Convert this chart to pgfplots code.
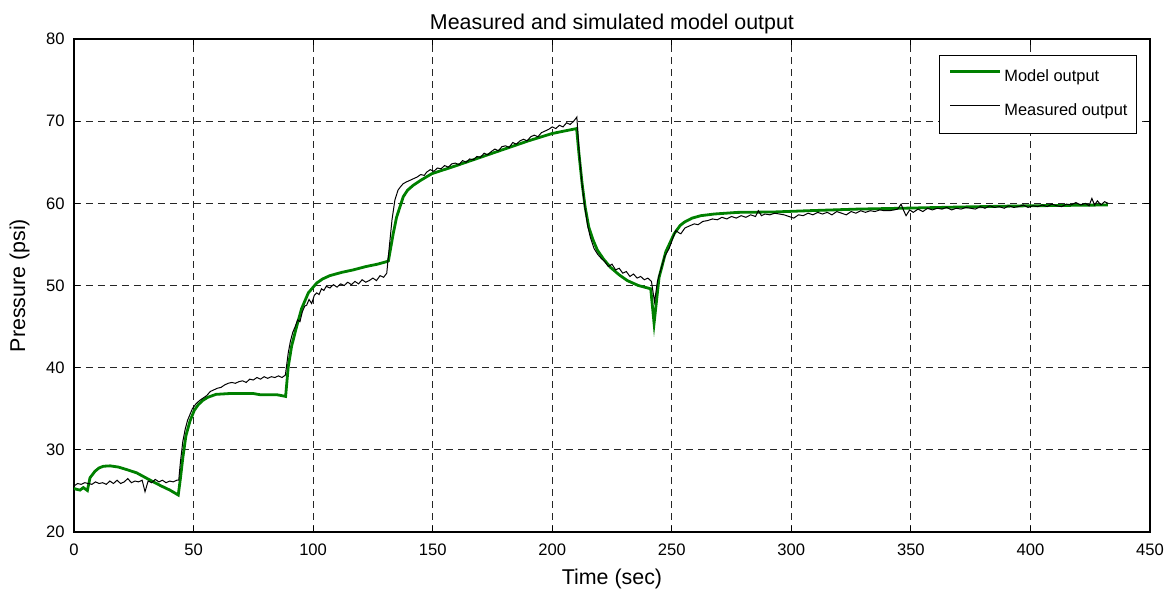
\documentclass[border=0pt]{standalone}
\usepackage{fontspec}
\setmainfont{Liberation Sans}
\usepackage{pgfplots}
\pgfplotsset{compat=1.18}
\definecolor{mgreen}{rgb}{0,0.5,0}
\begin{document}
\begin{tikzpicture}
\useasboundingbox (-37pt,-31pt) rectangle (550pt,266pt);
\begin{axis}[
  at={(0pt,0pt)}, anchor=south west,
  scale only axis, width=538pt, height=246.5pt,
  xmin=0, xmax=450, ymin=20, ymax=80,
  xtick={0,50,...,450}, ytick={20,30,...,80},
  /pgf/number format/assume math mode=true,
  tick label style={font=\fontsize{8.3}{10}\selectfont},
  xticklabel style={anchor=base, inner sep=0pt, yshift=-12pt},
  yticklabel style={anchor=east, inner sep=0pt, xshift=-4.5pt},
  tick align=inside, major tick length=3pt,
  axis line style={line width=0.6pt},
  every tick/.style={black, line width=0.5pt},
  grid=major,
  major grid style={black!85, line width=0.45pt, dash pattern=on 3.5pt off 2.5pt},
  every axis title shift=0pt,
  title={Measured and simulated model output},
  title style={font=\fontsize{10.7}{12}\selectfont, at={(axis description cs:0.5,1)}, anchor=base, yshift=4.9pt, inner sep=0pt},
  xlabel={Time (sec)},
  xlabel style={font=\fontsize{10.7}{12}\selectfont, at={(axis description cs:0.5,-0.1075)}, anchor=base, inner sep=0pt},
  ylabel={Pressure (psi)},
  ylabel style={font=\fontsize{10.7}{12}\selectfont, at={(axis description cs:-0.0455,0.5)}, anchor=base, inner sep=0pt},
  legend style={at={(axis description cs:0.988,0.9675)}, anchor=north east,
    draw=black, line width=0.6pt, fill=white,
    font=\fontsize{8.2}{9.8}\selectfont,
    inner xsep=4.5pt, inner ysep=7pt,
    nodes={inner sep=0pt, text height=6pt, text depth=2pt},
    row sep=9pt,
    /tikz/every odd column/.append style={column sep=1.5pt}},
  legend cell align=left,
  legend image code/.code={\draw[#1] (0pt,3pt) -- (25pt,3pt);},
]
\addplot[mgreen, line width=1.4pt] coordinates {
(0,25.3) (1,25.2) (2.5,25.1) (3.9,25.4) (5.6,25.05) (6.7,26.6) (8.8,27.4) (10.5,27.8)
(12.3,28.0) (15.1,28.05) (18.6,27.9) (22,27.6) (26.2,27.2) (30,26.6) (33.2,26.1)
(36.5,25.6) (40.1,25.1) (43.6,24.5) (44.5,26.5) (45.5,29.0) (46.8,31.7) (48.5,33.5)
(50.3,34.8) (52,35.5) (53.8,36.0) (56,36.4) (59.4,36.75) (65,36.85) (75,36.85)
(78,36.7) (85,36.7) (88.5,36.5) (89.6,40.1) (91.0,42.6) (93.1,45.0) (95.2,47.2)
(98.0,49.1) (101.5,50.3) (104,50.8) (107.0,51.2) (112,51.6) (116.8,51.9) (122,52.3)
(127,52.6) (130.7,52.9) (131.5,53.0) (133.5,56.3) (134.9,58.3) (137.7,60.8)
(139.5,61.6) (141.9,62.2) (145,62.8) (149.6,63.6) (160,64.6) (170,65.6) (180,66.6)
(190,67.6) (200,68.5) (210.2,69.1) (211.2,66) (212.5,62.4) (213.8,59.5) (215.3,57.1)
(217,55.6) (218.9,54.3) (221.5,53.2) (224.4,52.2) (228,51.3) (231.4,50.6) (236,50.0)
(241.2,49.6) (242.6,45.4) (244.7,51.0) (247.5,54.1) (251.0,56.3) (253.5,57.3)
(255.2,57.7) (258.5,58.2) (262.2,58.5) (267.8,58.7) (277.6,58.9) (292.9,58.95)
(306.9,59.1) (327.9,59.3) (346.1,59.4) (370,59.55) (398.3,59.7) (432.4,59.8)
};
\addlegendentry{Model output}
\addplot[black, line width=0.5pt] coordinates {
(0,25.6) (1.5,25.9) (3,25.8) (4.5,26.0) (6,25.9) (7.5,25.8) (9,26.1) (10.5,25.9)
(12,26.0) (13.5,25.8) (15,26.2) (16.5,25.9) (18,26.3) (19.5,25.9) (21,26.1) (22.5,26.5)
(24,26.0) (25.5,26.2) (27,26.1) (28.5,26.3) (29.7,24.9) (31,26.2) (32.5,26.0) (34,26.4)
(35.5,26.1) (37,26.3) (38.5,26.0) (40,26.2) (41.5,26.1) (43,26.3) (43.8,26.3)
(44.5,28.5) (45.5,31.0) (46.5,32.5) (47.5,33.6) (48.5,34.3) (49.5,35.0) (51,35.6)
(52.5,36.0) (54,36.3) (55.5,36.6) (57,37.1) (58.5,37.3) (60,37.5) (61.5,37.6) (63,37.9)
(64.5,38.1) (66,38.2) (67.5,38.1) (69,38.3) (70.5,38.4) (72,38.2) (73.5,38.6) (75,38.5)
(76.5,38.8) (78,38.6) (79.5,38.9) (81,38.7) (82.5,38.9) (84,38.8) (85.5,39.0) (87,38.8)
(88.4,39.1) (89.6,41.8) (90.5,43.2) (91.5,44.3) (92.5,45.0) (93.5,45.8) (94.5,45.6)
(95.5,46.8) (96.5,47.5) (97.3,47.6) (98.3,48.3) (99.4,47.8) (100.5,48.8) (101.5,49.1)
(102.5,48.9) (103.5,49.6) (104.5,49.4) (105.5,49.9) (107,49.7) (108.5,50.1) (110,49.8)
(111.5,50.2) (113,50.0) (114.5,50.4) (116,50.1) (117.5,50.5) (119,50.2) (120.5,50.7)
(122,50.4) (123.5,50.6) (125,50.9) (126.5,50.6) (128,51.2) (129.5,51.0) (130.8,51.5)
(131.8,54.5) (133,58.0) (134.2,60.4) (135.5,61.6) (136.5,62.0) (137.7,62.4) (139,62.6)
(140.5,62.8) (142,63.0) (143.5,63.2) (145,63.5) (146.5,63.4) (147.5,63.8) (149,64.1)
(150.5,63.9) (152,64.3) (153.5,64.2) (155,64.6) (156.5,64.4) (158,64.8) (159.5,64.9)
(161,64.7) (162.5,65.2) (164,65.0) (165.5,65.4) (167,65.3) (168.5,65.7) (170,65.6)
(171.5,66.1) (173,65.9) (174.5,66.3) (176,66.6) (177.5,66.4) (179,66.9) (180.5,67.0)
(182,66.8) (183.5,67.4) (185,67.2) (186.5,67.6) (188,67.8) (189.5,67.6) (191,68.1)
(192.5,68.3) (194,68.1) (195.5,68.6) (197,68.8) (198.5,69.0) (200,69.3) (201.5,69.1)
(203,69.5) (204.5,69.3) (206,69.8) (207.5,69.6) (209,70.0) (210.3,70.5)
(211.2,66.5) (212.3,62.8) (213.5,59.8) (214.8,57.3) (216,55.8) (217.5,54.5) (219,53.8)
(220.5,53.3) (222,52.9) (223.5,52.3) (225,52.6) (226.5,51.9) (228,52.1) (229.5,51.5)
(231,51.7) (232.5,51.1) (234,51.4) (235.5,50.9) (237,51.1) (238.5,50.7) (240,50.9)
(241.5,50.5) (242.8,48.0) (244,50.5) (245.5,52.0) (247,53.5) (248.9,54.5) (250.5,55.8)
(251.7,56.7) (253,56.4) (253.8,56.3) (255.5,57.0) (257,57.2) (259.4,57.5) (261,57.4)
(263,57.8) (265,57.9) (267,58.1) (269,58.0) (271,58.3) (273,58.1) (275,58.4) (277,58.2)
(279,58.5) (281,58.3) (283,58.6) (285,58.4) (286.2,59.1) (287.5,58.5) (289,58.7)
(291,58.6) (293,58.8) (295,58.7) (297,58.6) (299,58.4) (301,58.2) (303,58.6) (305,58.5)
(307,58.8) (309,58.6) (311,58.9) (313,58.7) (315,58.9) (317,58.6) (319,59.0) (321,58.8)
(323,58.6) (325,59.0) (327,58.8) (329,59.1) (331,58.9) (333,59.1) (335,59.0) (337,59.2)
(339,59.1) (341,59.1) (343,59.2) (344.5,59.3) (345.9,59.9) (347,59.1) (348,58.5)
(349.5,59.2) (351,58.9) (353,59.3) (355,59.0) (357,59.4) (359,59.2) (361,59.4) (363,59.3)
(365,59.5) (367,59.2) (369,59.4) (371,59.3) (373,59.5) (375,59.4) (377,59.3) (379,59.6)
(381,59.4) (383,59.7) (385,59.5) (387,59.6) (389,59.4) (391,59.7) (393,59.5) (395,59.6)
(397,59.8) (399,59.5) (401,59.7) (403,59.6) (405,59.8) (407,59.6) (409,59.9) (411,59.7)
(413,59.6) (415,59.9) (417,59.8) (419,60.1) (421,59.8) (423,60.0) (424.5,59.7)
(425.7,60.6) (426.8,59.8) (428,60.3) (429.5,59.8) (431,60.2) (432.5,60.0)
};
\addlegendentry{Measured output}
\end{axis}
\end{tikzpicture}
\end{document}
